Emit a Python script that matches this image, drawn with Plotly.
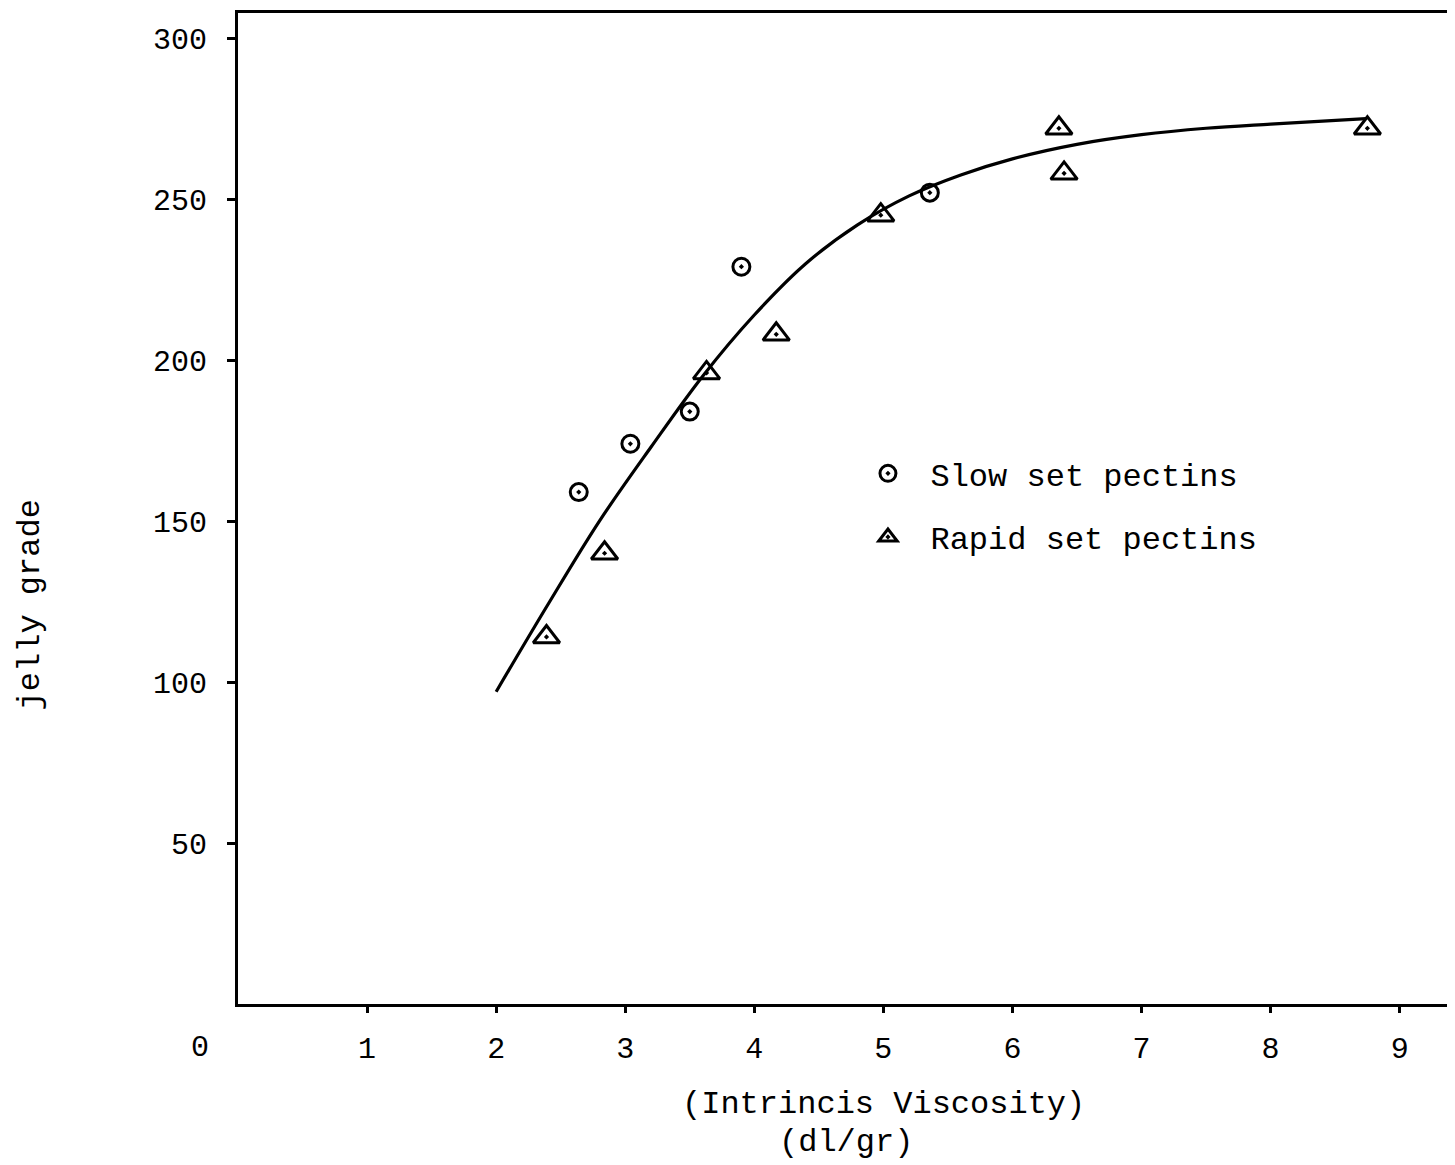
import plotly.graph_objects as go

# Data
slow_x = [2.64, 3.04, 3.50, 3.90, 5.36]
slow_y = [159, 174, 184, 229, 252]

rapid_x = [2.39, 2.84, 3.63, 4.17, 4.98, 6.36, 6.40, 8.75]
rapid_y = [114, 140, 196, 208, 245, 272, 258, 272]

curve_x = [2.0, 2.4, 2.8, 3.2, 3.6, 4.0, 4.4, 4.8, 5.2, 5.6, 6.0, 6.5, 7.0, 7.5, 8.0, 8.74]
curve_y = [97, 124, 150, 173, 195, 214, 230, 242, 251, 257.5, 262.5, 267, 270, 272, 273.3, 275]

x_ticks = [1, 2, 3, 4, 5, 6, 7, 8, 9]
y_ticks = [50, 100, 150, 200, 250, 300]

FONT = "Liberation Mono, DejaVu Sans Mono, monospace"

fig = go.Figure()
fig.add_trace(go.Scatter(x=curve_x, y=curve_y, mode="lines",
                         line=dict(color="black", width=3.2, shape="spline", smoothing=1),
                         showlegend=False, hoverinfo="skip"))
fig.add_trace(go.Scatter(x=slow_x, y=slow_y, mode="markers", name="Slow set pectins", legendgroup="a",
                         marker=dict(symbol="circle-open-dot", size=17, color="black",
                                     line=dict(color="black", width=3))))
fig.add_trace(go.Scatter(x=rapid_x, y=rapid_y, mode="markers", name="Rapid set pectins", legendgroup="b",
                         marker=dict(symbol="triangle-up-open-dot", size=23, color="black",
                                     line=dict(color="black", width=3))))

fig.update_layout(
    width=1447, height=1157, autosize=False,
    margin=dict(l=230, r=2, t=4, b=161),
    paper_bgcolor="white", plot_bgcolor="white",
    font=dict(family=FONT, size=30, color="black"),
    legend=dict(x=0.5012, y=0.563, xanchor="left", yanchor="top", bgcolor="rgba(0,0,0,0)",
                font=dict(size=32, family=FONT, color="black"), traceorder="grouped", tracegroupgap=19,
                itemwidth=75),
    xaxis=dict(range=[0, 9.39], tickvals=x_ticks, ticktext=[str(v) for v in x_ticks],
               showline=True, linewidth=3, linecolor="black", mirror=True,
               ticks="outside", ticklen=6, tickwidth=2.5, tickcolor="black",
               showgrid=False, zeroline=False, ticklabelstandoff=9,
               tickfont=dict(size=30, family=FONT)),
    yaxis=dict(range=[0, 307.8], tickvals=y_ticks, ticktext=[str(v) for v in y_ticks],
               showline=True, linewidth=3, linecolor="black", mirror=True,
               ticks="outside", ticklen=8, tickwidth=2.5, tickcolor="black",
               showgrid=False, zeroline=False, ticklabelstandoff=14,
               tickfont=dict(size=30, family=FONT)),
)

fig.add_annotation(text="0", x=0, y=0, xref="x", yref="y", xshift=-38, yshift=-44,
                   showarrow=False, font=dict(size=30, family=FONT))
fig.add_annotation(text="jelly grade", x=-0.171, y=0.403, xref="paper", yref="paper", textangle=-90,
                   xanchor="center", yanchor="middle",
                   showarrow=False, font=dict(size=32, family=FONT))
fig.add_annotation(text="(Intrincis Viscosity)", x=0.5325, y=-0.1018, xref="paper", yref="paper",
                   xanchor="center", yanchor="middle",
                   showarrow=False, font=dict(size=32, family=FONT))
fig.add_annotation(text="(dl/gr)", x=0.502, y=-0.140, xref="paper", yref="paper",
                   xanchor="center", yanchor="middle",
                   showarrow=False, font=dict(size=32, family=FONT))

fig.write_html("out.html")
